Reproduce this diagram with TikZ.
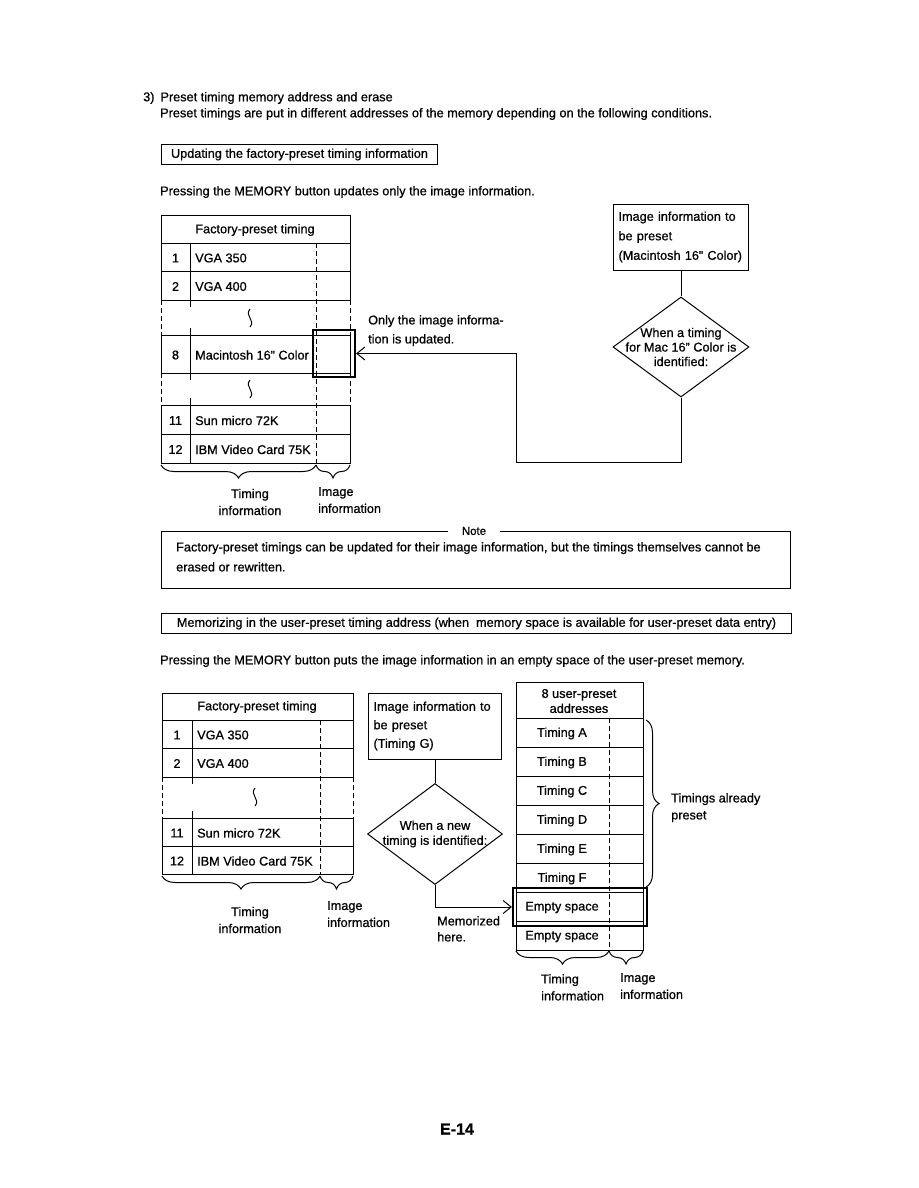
\documentclass[tikz,border=0pt]{standalone}
\usepackage{fontspec}
\setmainfont[FakeBold=0.7]{Liberation Sans}
\usetikzlibrary{arrows.meta, positioning, shapes.geometric, decorations.pathreplacing}

\tikzset{
  lbl/.style={inner sep=0pt, font=\fontsize{12.7}{17}\selectfont},
  frame/.style={draw, line width=1pt},
  imgsep/.style={line width=1pt, dash pattern=on 5pt off 3pt},
  hilite/.style={draw, line width=2.2pt, inner sep=0pt},
  brc/.style={decorate, decoration={brace, amplitude=13pt}, line width=1pt},
  arr/.style={line width=1pt, -{Straight Barb[length=8pt, width=13pt, line width=1pt]}},
  decide/.style={diamond, draw, line width=1pt, inner sep=0pt, minimum width=136pt, minimum height=100pt},
  infobox/.style={draw, line width=1pt, inner sep=5pt, align=left, text width=125pt,
                  minimum height=66pt, font=\fontsize{12.7}{19.5}\selectfont},
  squig/.pic={\draw[line width=1pt] (0,-9) .. controls (-6,-2) and (6,2) .. (0,9);}
}

\begin{document}
\begin{tikzpicture}[x=1pt, y=-1pt]
\useasboundingbox (0,0) rectangle (918,1188);

% heading
\node[lbl, anchor=west] (head) at (143,98) {3)\hspace{6pt}Preset timing memory address and erase};
\node[lbl, anchor=west] (intro) at (160,114) {Preset timings are put in different addresses of the memory depending on the following conditions.};
\node[lbl, frame, anchor=north west, minimum width=276pt, minimum height=20pt] (case1) at (161,144) {Updating the factory-preset timing information};
\node[lbl, anchor=west] (press1) at (160,192) {Pressing the MEMORY button updates only the image information.};

% factory-preset table, top
\draw[frame] (161,215) rectangle (350,243);
\node[lbl] (fh1) at (255,230) {Factory-preset timing};
\foreach \ya/\yb/\num/\name in {243/271/1/VGA 350, 271/300/2/VGA 400, 335/373/8/Macintosh 16" Color,
                                405/434/11/Sun micro 72K, 434/463/12/IBM Video Card 75K}{
  \draw[frame] (161,\ya) rectangle (350,\yb) (190,\ya) -- (190,\yb);
  \node[lbl] (fn\num) at (175.5,{(\ya+\yb)/2+1}) {\num};
  \node[lbl, anchor=west] (ft\num) at (195,{(\ya+\yb)/2+1}) {\name};
}
\draw[imgsep] (316,243) -- (316,463);
\foreach \ya/\yb in {300/335, 373/405}{
  \draw[imgsep] (161,\ya) -- (161,\yb) (350,\ya) -- (350,\yb);
  \draw[line width=1pt] (190,\ya) -- ++(0,7) (190,\yb) -- ++(0,-7);
}
\pic at (250,318) {squig};
\pic at (250,389) {squig};
\node[hilite, minimum width=42pt, minimum height=47pt] (hl1) at (334,353.5) {};
\draw[brc] (316,465) -- (161,465);
\draw[brc] (350,465) -- (316,465);
\node[lbl, align=center] (ti1) at (250,502) {Timing\\information};
\node[lbl, align=left, anchor=north west] (ii1) at (318,487) {Image\\information};

% update flow
\node[infobox] (img1) at (681,237) {Image information to\\be preset\\(Macintosh 16" Color)};
\node[decide] (dec1) at (681,347) {};
\node[lbl, align=center, font=\fontsize{12.7}{14.5}\selectfont] (dq1) at (dec1.center) {When a timing\\for Mac 16" Color is\\identified:};
\draw[line width=1pt] (img1) -- (dec1);
\coordinate (bend1) at (516,462);
\draw[arr] (dec1.south) |- (bend1) |- (hl1.east);
\node[lbl, align=left, anchor=north west, font=\fontsize{12.7}{19}\selectfont] (upd1) at (368,315) {Only the image informa-\\tion is updated.};

% note
\draw[frame] (161,531) rectangle (790,588);
\node[lbl, fill=white, inner xsep=14pt, inner ysep=1pt, font=\fontsize{11.5}{13}\selectfont] (note) at (474,531) {Note};
\node[lbl, anchor=north west, align=left, font=\fontsize{12.7}{20}\selectfont] (notetxt) at (176,542)
  {Factory-preset timings can be updated for their image information, but the timings themselves cannot be\\erased or rewritten.};

% second case
\node[lbl, frame, anchor=north west, minimum width=630pt, minimum height=20pt] (case2) at (161,613)
  {Memorizing in the user-preset timing address (when\ \ memory space is available for user-preset data entry)};
\node[lbl, anchor=west] (press2) at (160,661) {Pressing the MEMORY button puts the image information in an empty space of the user-preset memory.};

% factory-preset table, bottom
\draw[frame] (162,693) rectangle (353,720);
\node[lbl] (fh2) at (257,707) {Factory-preset timing};
\foreach \ya/\yb/\num/\name in {720/748/1/VGA 350, 748/777/2/VGA 400, 818/846/11/Sun micro 72K, 846/874/12/IBM Video Card 75K}{
  \draw[frame] (162,\ya) rectangle (353,\yb) (192,\ya) -- (192,\yb);
  \node[lbl] (gn\num) at (177,{(\ya+\yb)/2+1}) {\num};
  \node[lbl, anchor=west] (gt\num) at (197,{(\ya+\yb)/2+1}) {\name};
}
\draw[imgsep] (320,720) -- (320,874);
\draw[imgsep] (162,777) -- (162,818) (353,777) -- (353,818);
\draw[line width=1pt] (192,777) -- ++(0,7) (192,818) -- ++(0,-7);
\pic at (255,797) {squig};
\draw[brc] (320,876) -- (162,876);
\draw[brc] (353,876) -- (320,876);
\node[lbl, align=center] (ti2) at (250,920) {Timing\\information};
\node[lbl, align=left, anchor=north west] (ii2) at (327,901) {Image\\information};

% user-preset column
\draw[frame] (516,682) rectangle (643,718);
\node[lbl, align=center, font=\fontsize{12.7}{15}\selectfont] (uh) at (579,701) {8 user-preset\\addresses};
\foreach \name [count=\i from 0] in {Timing A, Timing B, Timing C, Timing D, Timing E, Timing F, Empty space, Empty space}{
  \draw[frame] (516,{718+29*\i}) rectangle ++(127,29);
  \node[lbl] (u\i) at (562,{733.5+29*\i}) {\name};
}
\draw[imgsep] (609,718) -- (609,950);
\node[hilite, minimum width=134pt, minimum height=38pt] (hl2) at (580,907) {};
\draw[brc] (646,720) -- (646,887);
\node[lbl, align=left, anchor=north west] (pre) at (671,793) {Timings already\\preset};
\draw[brc] (609,951) -- (516,951);
\draw[brc] (643,951) -- (609,951);
\node[lbl, align=left, anchor=north west] (ti3) at (541,974) {Timing\\information};
\node[lbl, align=left, anchor=north west] (ii3) at (620,973) {Image\\information};

% new timing flow
\node[infobox, text width=123pt, font=\fontsize{12.7}{18.5}\selectfont] (img2) at (435,726) {Image information to\\be preset\\(Timing G)};
\node[decide, minimum width=135pt, minimum height=101pt] (dec2) at (435,834) {};
\node[lbl, align=center, font=\fontsize{12.7}{15}\selectfont] (dq2) at (dec2.center) {When a new\\timing is identified:};
\draw[line width=1pt] (img2) -- (dec2);
\draw[arr] (dec2.south) |- (hl2.west);
\node[lbl, align=left, anchor=north west, font=\fontsize{12.7}{16}\selectfont] (mem) at (437,916) {Memorized\\here.};

% page number
\node[font=\bfseries\fontsize{16}{18}\selectfont] (page) at (457,1129) {E-14};
\end{tikzpicture}
\end{document}
